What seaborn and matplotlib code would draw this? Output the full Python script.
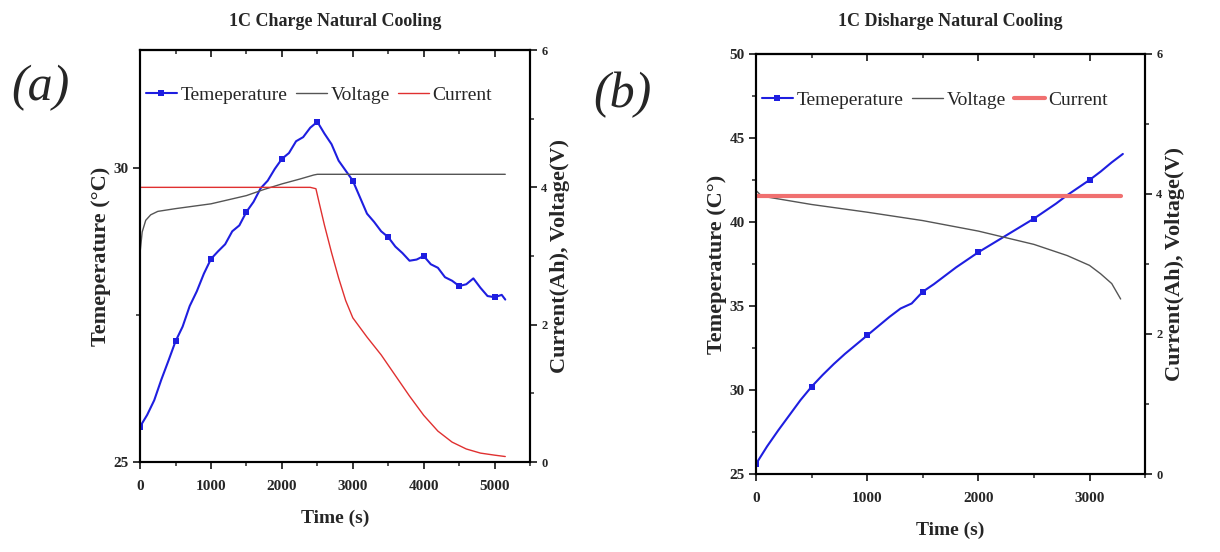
import matplotlib
matplotlib.use("Agg")
import pandas as pd
import matplotlib.pyplot as plt
import seaborn as sns
from matplotlib.lines import Line2D
from matplotlib.ticker import MultipleLocator

# ---- dados (a) carga 1C ----
t_temp_a = [0, 100, 200, 300, 400, 500, 600, 700, 800, 900,
            1000, 1100, 1200, 1300, 1400, 1500, 1600, 1700, 1800, 1900,
            2000, 2100, 2200, 2300, 2400, 2500, 2600, 2700, 2800, 2900,
            3000, 3100, 3200, 3300, 3400, 3500, 3600, 3700, 3800, 3900,
            4000, 4100, 4200, 4300, 4400, 4500, 4600, 4700, 4800, 4900,
            5000, 5100, 5150]
temp_a = [25.60, 25.80, 26.05, 26.40, 26.72, 27.05, 27.30, 27.65, 27.90, 28.20,
          28.45, 28.58, 28.70, 28.92, 29.02, 29.25, 29.42, 29.65, 29.78, 29.98,
          30.15, 30.25, 30.45, 30.52, 30.68, 30.78, 30.58, 30.40, 30.12, 29.95,
          29.78, 29.50, 29.22, 29.08, 28.92, 28.82, 28.66, 28.55, 28.42, 28.44,
          28.50, 28.36, 28.30, 28.14, 28.08, 27.99, 28.02, 28.12, 27.96, 27.82,
          27.80, 27.84, 27.76]
t_volt_a = [0, 30, 80, 150, 250, 500, 1000, 1500, 1750, 2000, 2250, 2450, 2500, 5150]
volt_a = [3.05, 3.35, 3.52, 3.60, 3.65, 3.69, 3.76, 3.88, 3.97, 4.05, 4.12, 4.18, 4.19, 4.19]
t_curr_a = [0, 2400, 2480, 2520, 2600, 2700, 2800, 2900, 3000, 3200,
            3400, 3600, 3800, 4000, 4200, 4400, 4600, 4800, 5000, 5150]
curr_a = [4.00, 4.00, 3.98, 3.80, 3.45, 3.05, 2.68, 2.35, 2.10, 1.82,
          1.56, 1.26, 0.96, 0.68, 0.45, 0.29, 0.19, 0.13, 0.10, 0.08]

# ---- dados (b) descarga 1C ----
t_temp_b = [0, 100, 200, 300, 400, 500, 600, 700, 800, 900,
            1000, 1100, 1200, 1300, 1400, 1500, 1600, 1700, 1800, 1900,
            2000, 2100, 2200, 2300, 2400, 2500, 2600, 2700, 2800, 2900,
            3000, 3100, 3200, 3250, 3300]
temp_b = [25.60, 26.65, 27.60, 28.50, 29.40, 30.20, 30.90, 31.55, 32.15, 32.70,
          33.25, 33.80, 34.35, 34.85, 35.15, 35.85, 36.30, 36.80, 37.30, 37.75,
          38.20, 38.60, 39.00, 39.40, 39.80, 40.20, 40.65, 41.10, 41.60, 42.05,
          42.50, 43.00, 43.55, 43.80, 44.05]
t_volt_b = [0, 50, 200, 500, 1000, 1500, 2000, 2500, 2800, 3000, 3100, 3200, 3280]
volt_b = [4.05, 3.97, 3.93, 3.85, 3.74, 3.62, 3.47, 3.28, 3.12, 2.98, 2.86, 2.72, 2.50]
t_curr_b = [0, 3280]
curr_b = [3.97, 3.97]

AZUL = "#1e1ee0"
CINZA = "#555555"

sns.set_style("ticks")
plt.rcParams['font.family'] = ['Liberation Serif', 'DejaVu Serif']
plt.rcParams['axes.linewidth'] = 1.5

fig = plt.figure(figsize=(12.2, 5.52), dpi=100)


def painel(pos, titulo, rotulo_y, t_temp, temp, t_volt, volt, t_curr, curr,
           xlim, ylim, xmaior, cor_corr, lw_corr, letra, letra_xy, titulo_x):
    ax = fig.add_axes(pos)
    ax2 = ax.twinx()

    df_t = pd.DataFrame({'t': t_temp, 'T': temp})
    marcas = [i for i, t in enumerate(t_temp) if t % 500 == 0]
    sns.lineplot(data=df_t, x='t', y='T', ax=ax, color=AZUL, lw=1.5,
                 marker='s', markersize=5, markeredgewidth=0,
                 markevery=marcas, estimator=None)
    sns.lineplot(x=t_volt, y=volt, ax=ax2, color=CINZA, lw=1.0, estimator=None)
    sns.lineplot(x=t_curr, y=curr, ax=ax2, color=cor_corr, lw=lw_corr, estimator=None)

    ax.set_xlim(*xlim)
    ax.set_ylim(*ylim)
    ax2.set_ylim(0, 6)
    ax.xaxis.set_major_locator(MultipleLocator(xmaior))
    ax.xaxis.set_minor_locator(MultipleLocator(500))
    ax.yaxis.set_major_locator(MultipleLocator(5))
    ax.yaxis.set_minor_locator(MultipleLocator(2.5))
    ax2.yaxis.set_major_locator(MultipleLocator(2))
    ax2.yaxis.set_minor_locator(MultipleLocator(1))

    for a in (ax, ax2):
        a.tick_params(which='major', length=5, width=1.3, direction='out')
        a.tick_params(which='minor', length=3, width=1.1, direction='out')
        for s in a.spines.values():
            s.set_linewidth(1.5)
            s.set_color('black')
    ax.tick_params(axis='x', labelsize=11, pad=8)
    ax.tick_params(axis='y', labelsize=11, pad=3)
    ax2.tick_params(labelsize=9, pad=3)
    for lab in ax.get_xticklabels() + ax.get_yticklabels() + ax2.get_yticklabels():
        lab.set_fontweight('bold')

    topo = ax.secondary_xaxis('top')
    topo.xaxis.set_major_locator(MultipleLocator(xmaior))
    topo.xaxis.set_minor_locator(MultipleLocator(500))
    topo.tick_params(which='major', direction='in', length=5, width=1.3, labeltop=False)
    topo.tick_params(which='minor', direction='in', length=3, width=1.1)

    ax.set_xlabel('Time (s)', fontsize=14, fontweight='bold', labelpad=12)
    ax.set_ylabel(rotulo_y, fontsize=16, fontweight='bold', labelpad=2)
    ax2.set_ylabel('Current(Ah), Voltage(V)', fontsize=16, fontweight='bold',
                   labelpad=2)
    fig.text(titulo_x, 1 - 21 / 552, titulo, fontsize=13, fontweight='bold',
             ha='center', va='center')

    alcas = [
        Line2D([], [], color=AZUL, lw=1.5, marker='s', markersize=5, markeredgewidth=0),
        Line2D([], [], color=CINZA, lw=1.0),
        Line2D([], [], color=cor_corr, lw=lw_corr),
    ]
    ax2.legend(alcas, ['Temeperature', 'Voltage', 'Current'], loc='upper left',
               bbox_to_anchor=(-0.005, 0.93), ncol=3, frameon=False, fontsize=14,
               handlelength=1.6, handletextpad=0.2, columnspacing=0.4, borderaxespad=0)

    fig.text(letra_xy[0], letra_xy[1], letra, fontsize=36, style='italic',
             ha='center', va='center')


painel([0.1148, 0.163, 0.3197, 0.7464], '1C Charge Natural Cooling',
       'Temeperature (°C)', t_temp_a, temp_a, t_volt_a, volt_a, t_curr_a, curr_a,
       (0, 5500), (25, 32), 1000, '#e03030', 1.0, '(a)', (40 / 1220, 1 - 88 / 552),
       335 / 1220)

painel([0.6197, 0.1413, 0.3189, 0.7609], '1C Disharge Natural Cooling',
       'Temeperature (C°)', t_temp_b, temp_b, t_volt_b, volt_b, t_curr_b, curr_b,
       (0, 3500), (25, 50), 1000, '#f07070', 3.0, '(b)', (622 / 1220, 1 - 95 / 552),
       950 / 1220)

plt.savefig('out.png', dpi=100)
